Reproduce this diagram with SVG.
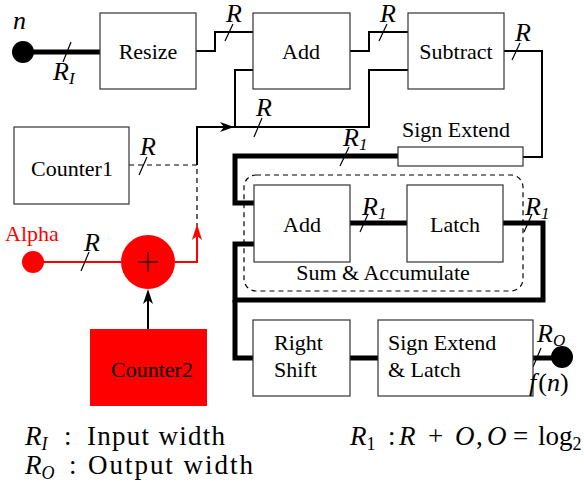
<svg xmlns="http://www.w3.org/2000/svg" width="584" height="486" viewBox="0 0 584 486">
<defs>
<style>
.box{fill:#fff;stroke:#333;stroke-width:1.2}
text{font-family:'Liberation Serif','DejaVu Serif',serif}
.lbl{font-size:22px;fill:#000}
.mi{font-style:italic;font-size:26px;fill:#000}
.sub{font-size:17px}
.leg{font-size:27px;fill:#000}
.w{fill:none;stroke:#000;stroke-width:2}
.thick{fill:none;stroke:#000;stroke-width:5}
.tick{stroke:#000;stroke-width:1.2}
.dash{fill:none;stroke:#000;stroke-width:1.2;stroke-dasharray:5 4}
.red{fill:none;stroke:#f00;stroke-width:2}
</style>
</defs>

<g id="connectors">
  <line class="thick" x1="23" y1="52" x2="100" y2="52"/>
  <line class="tick" x1="63" y1="62" x2="71" y2="42"/>
  <polyline class="w" points="196,51 215,51 215,32 253,32"/>
  <line class="tick" x1="225" y1="41" x2="233" y2="24"/>
  <polyline class="w" points="350,51 369,51 369,32 408,32"/>
  <line class="tick" x1="379" y1="41" x2="387" y2="24"/>
  <polyline class="w" points="504,51 542,51 542,157 523,157"/>
  <line class="tick" x1="512" y1="60" x2="520" y2="43"/>
  <polyline class="w" points="408,70 369,70 369,127 197,127 197,165"/>
  <polyline class="w" points="253,70 235,70 235,127"/>
  <polygon points="234,127 220,122 224,127 220,132" fill="#000"/>
  <line class="tick" x1="254" y1="137" x2="262" y2="118"/>
  <polyline class="dash" points="129,165 197,165 197,226"/>
  <line class="tick" x1="139" y1="175" x2="147" y2="157"/>
  <line class="red" x1="44" y1="262" x2="121" y2="262"/>
  <line class="tick" x1="81" y1="271" x2="89" y2="252"/>
  <polyline class="red" points="175,262 197,262 197,232"/>
  <polygon points="197,224 192,240 197,236 202,240" fill="#f00"/>
  <line class="w" x1="148" y1="329" x2="148" y2="296"/>
  <polygon points="148,289 143,304 148,300 153,304" fill="#000"/>
  <polyline class="thick" points="398,156 235,156 235,203 254,203"/>
  <line class="tick" x1="340" y1="166" x2="349" y2="147"/>
  <line class="thick" x1="350" y1="223" x2="407" y2="223"/>
  <line class="tick" x1="360" y1="232" x2="368" y2="214"/>
  <polyline class="thick" points="503,223 543,223 543,300 235,300 235,244 254,244"/>
  <polyline class="thick" points="235,300 235,358 253,358"/>
  <line class="tick" x1="524" y1="232" x2="532" y2="214"/>
  <line class="thick" x1="350" y1="358" x2="378" y2="358"/>
  <line class="thick" x1="533" y1="358" x2="562" y2="358"/>
  <line class="tick" x1="533" y1="367" x2="541" y2="348"/>
</g>

<g id="n-input">
  <circle cx="23" cy="52" r="11" fill="#000"/>
  <text class="mi" x="13" y="29">n</text>
  <text class="mi" x="53" y="80">R<tspan class="sub" dy="4">I</tspan></text>
</g>

<g id="resize">
  <rect class="box" x="100" y="13" width="96" height="76"/>
  <text class="lbl" x="148" y="59" text-anchor="middle">Resize</text>
</g>
<text class="mi" x="226" y="22">R</text>

<g id="add1">
  <rect class="box" x="253" y="13" width="97" height="76"/>
  <text class="lbl" x="301" y="59" text-anchor="middle">Add</text>
</g>
<text class="mi" x="380" y="22">R</text>

<g id="subtract">
  <rect class="box" x="408" y="13" width="96" height="76"/>
  <text class="lbl" x="456" y="59" text-anchor="middle">Subtract</text>
</g>
<text class="mi" x="515" y="41">R</text>
<text class="mi" x="256" y="116">R</text>

<g id="counter1">
  <rect class="box" x="14" y="127" width="115" height="77"/>
  <text class="lbl" x="72" y="176" text-anchor="middle">Counter1</text>
</g>
<text class="mi" x="140" y="155">R</text>

<g id="sign-extend">
  <rect class="box" x="398" y="147" width="125" height="19"/>
  <text class="lbl" x="456" y="137" text-anchor="middle">Sign Extend</text>
</g>
<text class="mi" x="343" y="146">R<tspan class="sub" dy="4">1</tspan></text>

<g id="sum-accumulate">
  <rect x="244" y="175" width="279" height="116" rx="12" class="dash"/>
  <text class="lbl" x="383" y="280" text-anchor="middle">Sum &amp; Accumulate</text>
</g>

<g id="add2">
  <rect class="box" x="254" y="185" width="96" height="77"/>
  <text class="lbl" x="302" y="232" text-anchor="middle">Add</text>
</g>
<text class="mi" x="362" y="215">R<tspan class="sub" dy="4">1</tspan></text>

<g id="latch">
  <rect class="box" x="407" y="185" width="96" height="77"/>
  <text class="lbl" x="455" y="232" text-anchor="middle">Latch</text>
</g>
<text class="mi" x="525" y="215">R<tspan class="sub" dy="4">1</tspan></text>

<g id="alpha">
  <circle cx="33" cy="262" r="11" fill="#f00"/>
  <text class="lbl" x="5" y="241" style="fill:#f00">Alpha</text>
</g>
<text class="mi" x="84" y="251">R</text>

<g id="adder">
  <circle cx="148" cy="262" r="27" fill="#f00"/>
  <line x1="138" y1="262" x2="158" y2="262" stroke="#000" stroke-width="1.2"/>
  <line x1="148" y1="252" x2="148" y2="272" stroke="#000" stroke-width="1.2"/>
</g>

<g id="counter2">
  <rect x="90" y="329" width="117" height="77" fill="#f00"/>
  <text class="lbl" x="152" y="377" text-anchor="middle">Counter2</text>
</g>

<g id="right-shift">
  <rect class="box" x="253" y="320" width="97" height="76"/>
  <text class="lbl" x="274" y="350">Right</text>
  <text class="lbl" x="274" y="377">Shift</text>
</g>

<g id="sign-extend-latch">
  <rect class="box" x="378" y="320" width="155" height="76"/>
  <text class="lbl" x="388" y="350">Sign Extend</text>
  <text class="lbl" x="388" y="377">&amp; Latch</text>
</g>

<g id="output">
  <circle cx="562" cy="357" r="11" fill="#000"/>
  <text class="mi" x="537" y="342">R<tspan class="sub" dy="4">O</tspan></text>
  <text class="mi" x="529" y="391">f<tspan font-style="normal" dx="2">(</tspan>n<tspan font-style="normal">)</tspan></text>
</g>

<g id="legend">
  <text class="leg" x="25" y="445"><tspan font-style="italic">R</tspan><tspan font-style="italic" font-size="18" dy="5">I</tspan></text>
  <text class="leg" x="64" y="445">:</text>
  <text class="leg" x="87" y="445" textLength="138" lengthAdjust="spacing">Input width</text>
  <text class="leg" x="25" y="474"><tspan font-style="italic">R</tspan><tspan font-style="italic" font-size="18" dy="5">O</tspan></text>
  <text class="leg" x="69" y="474">:</text>
  <text class="leg" x="88" y="474" textLength="165" lengthAdjust="spacing">Output width</text>
  <text class="leg" x="350" y="445"><tspan font-style="italic">R</tspan><tspan font-size="18" dy="5">1</tspan><tspan dy="-5" x="388">:</tspan><tspan x="399" font-style="italic">R</tspan><tspan x="428">+</tspan><tspan x="455" font-style="italic">O</tspan><tspan x="476">,</tspan><tspan x="487" font-style="italic">O</tspan><tspan x="513">=</tspan><tspan x="538">log</tspan><tspan font-size="18" dy="5">2</tspan></text>
</g>
</svg>
